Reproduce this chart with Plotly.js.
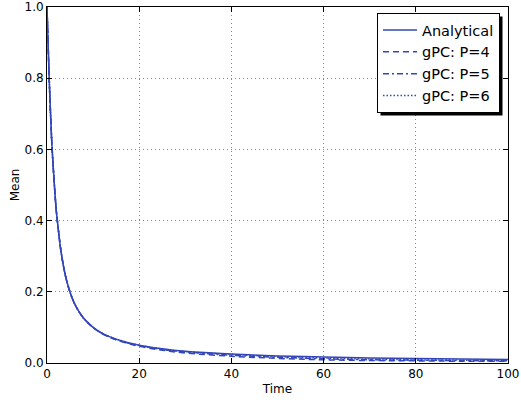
<!DOCTYPE html>
<html>
<head>
<meta charset="utf-8">
<script src="https://cdn.plot.ly/plotly-3.0.1.min.js"></script>
<style>html,body{margin:0;padding:0;background:#fff;}#chart{width:521px;height:400px;}</style>
</head>
<body>
<div id="chart"></div>
<script>
var time = [0, 0.5, 1, 1.5, 2, 2.5, 3, 4, 5, 6, 7, 8, 10, 12, 15, 20, 25, 30, 40, 50, 60, 70, 80, 90, 100];
var analytical = [1.0, 0.79, 0.63, 0.52, 0.43, 0.37, 0.317, 0.245, 0.199, 0.166, 0.143, 0.125, 0.1, 0.083, 0.067, 0.05, 0.04, 0.033, 0.025, 0.02, 0.0167, 0.0143, 0.0125, 0.0111, 0.01];
var gpcP4 = [1.0, 0.79, 0.63, 0.52, 0.43, 0.37, 0.317, 0.245, 0.199, 0.166, 0.143, 0.125, 0.1, 0.082, 0.065, 0.047, 0.036, 0.028, 0.019, 0.013, 0.009, 0.007, 0.006, 0.005, 0.005];
var gpcP5 = [1.0, 0.79, 0.63, 0.52, 0.43, 0.37, 0.317, 0.245, 0.199, 0.166, 0.143, 0.125, 0.1, 0.083, 0.066, 0.049, 0.038, 0.031, 0.022, 0.016, 0.012, 0.009, 0.008, 0.007, 0.006];
var gpcP6 = [1.0, 0.79, 0.63, 0.52, 0.43, 0.37, 0.317, 0.245, 0.199, 0.166, 0.143, 0.125, 0.1, 0.083, 0.067, 0.05, 0.039, 0.032, 0.024, 0.018, 0.014, 0.011, 0.009, 0.008, 0.007];
var seriesNames = ["Analytical", "gPC: P=4", "gPC: P=5", "gPC: P=6"];

var blue = "#3346b8";
var traces = [
  {x: time, y: analytical, name: seriesNames[0], mode: "lines", line: {color: blue, width: 1.5, dash: "solid", shape: "spline"}},
  {x: time, y: gpcP4, name: seriesNames[1], mode: "lines", line: {color: blue, width: 1.5, dash: "6px,4px", shape: "spline"}},
  {x: time, y: gpcP5, name: seriesNames[2], mode: "lines", line: {color: blue, width: 1.5, dash: "6px,3px,2px,3px", shape: "spline"}},
  {x: time, y: gpcP6, name: seriesNames[3], mode: "lines", line: {color: blue, width: 1.5, dash: "1.5px,2px", shape: "spline"}}
];

var axisCommon = {
  showline: true, linecolor: "#000", linewidth: 1, mirror: "ticks",
  ticks: "inside", ticklen: 5, tickcolor: "#000", tickwidth: 1,
  showgrid: true, gridcolor: "#888", griddash: "1px,3px", gridwidth: 1,
  zeroline: false,
  tickfont: {family: "DejaVu Sans", size: 12, color: "#000"}
};

var ML = 47, MT = 7, PW = 461, PH = 356;
var layout = {
  width: 521, height: 400,
  margin: {l: ML, r: 13, t: MT, b: 37},
  paper_bgcolor: "#fff", plot_bgcolor: "#fff",
  font: {family: "DejaVu Sans", color: "#000"},
  xaxis: Object.assign({}, axisCommon, {range: [0, 100], tickvals: [0, 20, 40, 60, 80, 100],
    title: {text: "Time", font: {size: 12}, standoff: 4}}),
  yaxis: Object.assign({}, axisCommon, {range: [0, 1], tickvals: [0, 0.2, 0.4, 0.6, 0.8, 1.0], tickformat: ".1f",
    title: {text: "Mean", font: {size: 12}, standoff: 2}}),
  showlegend: true,
  legend: {x: (500 - ML) / PW, y: (363 - 13) / PH, xanchor: "right", yanchor: "top",
    bgcolor: "#fff", bordercolor: "#000", borderwidth: 1, itemwidth: 34,
    traceorder: "normal",
    font: {family: "DejaVu Sans", size: 14.5, color: "#000"}},
  shapes: []
};

Plotly.newPlot("chart", traces, layout, {displayModeBar: false, staticPlot: true}).then(function (gd) {
  var bg = gd.querySelector(".legend .bg");
  var root = gd.getBoundingClientRect();
  var r = bg.getBoundingClientRect();
  var x0 = r.left - root.left + 3, x1 = r.right - root.left + 3;
  var yTop = r.top - root.top + 3, yBot = r.bottom - root.top + 3;
  Plotly.relayout(gd, {shapes: [{type: "rect", xref: "paper", yref: "paper", layer: "above",
    x0: (x0 - ML) / PW, x1: (x1 - ML) / PW,
    y0: (MT + PH - yBot) / PH, y1: (MT + PH - yTop) / PH,
    fillcolor: "#000", line: {width: 0}}]});
});
</script>
</body>
</html>
